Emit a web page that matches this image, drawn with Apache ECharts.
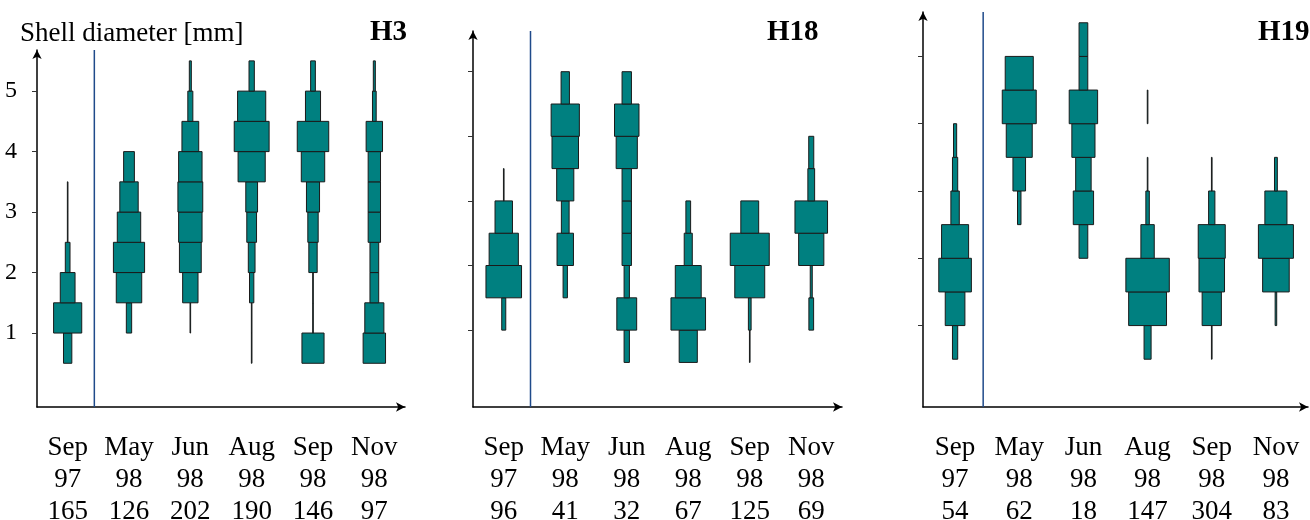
<!DOCTYPE html>
<html>
<head>
<meta charset="utf-8">
<script src="https://cdn.jsdelivr.net/npm/echarts@6/dist/echarts.min.js"></script>
<style>
  html, body { margin: 0; padding: 0; background: #fff; }
  #chart { width: 1310px; height: 520px; }
</style>
</head>
<body>
<div id="chart"></div>
<script>
// ---------- data ----------
const months = ['Sep', 'May', 'Jun', 'Aug', 'Sep', 'Nov'];
const years = ['97', '98', '98', '98', '98', '98'];
const sites = ['H3', 'H18', 'H19'];
const countsH3 = [165, 126, 202, 190, 146, 97];
const countsH18 = [96, 41, 32, 67, 125, 69];
const countsH19 = [54, 62, 18, 147, 304, 83];
// lower edges of 0.5 mm size classes
const binLower = [0.5, 1.0, 1.5, 2.0, 2.5, 3.0, 3.5, 4.0, 4.5, 5.0];
const binWidth = 0.5;
const yTicks = [1, 2, 3, 4, 5];
// relative frequency per size class (one row per sample date)
const freqH3 = [
  [8.3, 28, 14.7, 4.7, 0.6, 0.6, 0, 0, 0, 0],
  [0, 5.3, 25.3, 31, 23.3, 18.3, 10.7, 0, 0, 0],
  [0, 0.6, 15.3, 21.7, 23.3, 24.7, 23.3, 16.7, 5, 2],
  [0.6, 0.6, 4.3, 6.7, 9.7, 11.7, 27, 34.7, 28, 5.3],
  [22, 0.6, 0.6, 8.3, 10.3, 13, 23.3, 31.3, 15, 4.7],
  [22.3, 19, 8.7, 8.7, 12.3, 12.3, 12.3, 16.3, 3.7, 2]
];
const freqH18 = [
  [0, 4, 35.3, 29, 17.3, 0.6, 0, 0, 0, 0],
  [0, 0, 4.3, 16.3, 7.7, 17, 26.3, 28, 8.3, 0],
  [5.3, 19.7, 5.3, 9.3, 9.3, 9.3, 21, 24.3, 9.3, 0],
  [18, 34.3, 25.7, 8, 4.7, 0, 0, 0, 0, 0],
  [0.6, 2.7, 29.7, 38.7, 17.7, 0, 0, 0, 0, 0],
  [0, 4.7, 2, 25, 32.3, 6.7, 5, 0, 0, 0]
];
const freqH19 = [
  [5, 18.7, 31, 25.7, 8, 5, 3, 0, 0, 0],
  [0, 0, 0, 0, 3.3, 12, 24.7, 32.3, 26.7, 0],
  [0, 0, 0, 8.3, 19.3, 14.7, 22, 27, 8.3, 8.3],
  [6.7, 36, 41.3, 12.7, 3.3, 0.6, 0, 0.6, 0, 0],
  [0.6, 18.3, 24.3, 25.7, 6, 0.6, 0, 0, 0, 0],
  [0, 1.5, 25.3, 33.3, 21, 2.7, 0, 0, 0, 0]
];
const counts = [countsH3, countsH18, countsH19];
const freqs = [freqH3, freqH18, freqH19];

// ---------- layout / style ----------
const FONT = "'Liberation Serif', 'Times New Roman', serif";
const FREQ_PER_BAND = 61; // frequency units spanning one category band
const grids = [
  { left: 37, top: 50, width: 368, height: 357 },
  { left: 473, top: 31, width: 369, height: 376 },
  { left: 923, top: 12, width: 385, height: 395 }
];
const yRanges = [[-0.223, 5.68], [-0.19, 5.63], [-0.21, 5.66]];

const xAxes = [], yAxes = [], series = [];
sites.forEach((site, p) => {
  xAxes.push({
    gridIndex: p, type: 'category', boundaryGap: true, position: 'bottom',
    data: months.map((m, i) => m + '\n' + years[i] + '\n' + counts[p][i]),
    axisLine: { onZero: false, lineStyle: { color: '#000', width: 1.5 }, symbol: ['none', 'arrow'], symbolSize: [7, 9] },
    axisTick: { alignWithLabel: true, length: 6, lineStyle: { color: '#333' } },
    axisLabel: { interval: 0, fontFamily: FONT, fontSize: 27, lineHeight: 32, margin: 25, color: '#000' },
    splitLine: { show: false }
  });
  yAxes.push({
    gridIndex: p, type: 'value', min: yRanges[p][0], max: yRanges[p][1],
    axisLine: { show: true, onZero: false, lineStyle: { color: '#000', width: 1.5 }, symbol: ['none', 'arrow'], symbolSize: [7, 9] },
    axisTick: { show: true, customValues: yTicks, length: 5, lineStyle: { color: '#333' } },
    axisLabel: { show: p === 0, customValues: yTicks, fontFamily: FONT, fontSize: 24, color: '#000', margin: 20 },
    splitLine: { show: false }
  });
  const data = [];
  freqs[p].forEach((row, c) => {
    row.forEach((f, b) => { if (f > 0) data.push([c, binLower[b], f]); });
  });
  series.push({
    type: 'custom', xAxisIndex: p, yAxisIndex: p, data: data,
    encode: { x: 0, y: 1 },
    renderItem: (params, api) => {
      const c = api.value(0), lo = api.value(1), f = api.value(2);
      const band = api.size([1, 0])[0];
      const half = f * band / FREQ_PER_BAND / 2;
      const pLo = api.coord([c, lo]);
      const pHi = api.coord([c, lo + binWidth]);
      return {
        type: 'rect',
        shape: { x: pLo[0] - half, y: pHi[1], width: 2 * half, height: pLo[1] - pHi[1] },
        style: { fill: '#008080', stroke: '#1a1a1a', lineWidth: 1 }
      };
    },
    silent: true, z: 3
  });
  // break line between the first and the second sample
  const yr = yRanges[p];
  series.push({
    type: 'custom', xAxisIndex: p, yAxisIndex: p, data: [[0, yr[0]]],
    encode: { x: 0, y: 1 },
    renderItem: (params, api) => {
      const a = api.coord([0, yr[1]]);
      const b = api.coord([1, yr[0]]);
      const x = (a[0] + b[0]) / 2 - 4;
      return {
        type: 'line',
        shape: { x1: x, y1: a[1], x2: x, y2: b[1] },
        style: { stroke: '#1f4a8a', lineWidth: 1.5 }
      };
    },
    silent: true, z: 2
  });
});

const option = {
  animation: false,
  backgroundColor: '#fff',
  title: [
    { text: 'Shell diameter [mm]', left: 20, top: 20, padding: 0,
      textStyle: { fontFamily: FONT, fontSize: 27, fontWeight: 'normal', color: '#000', lineHeight: 27 } },
    { text: sites[0], left: 370, top: 18, padding: 0,
      textStyle: { fontFamily: FONT, fontSize: 29, fontWeight: 'bold', color: '#000', lineHeight: 29 } },
    { text: sites[1], left: 767, top: 18, padding: 0,
      textStyle: { fontFamily: FONT, fontSize: 29, fontWeight: 'bold', color: '#000', lineHeight: 29 } },
    { text: sites[2], left: 1258, top: 18, padding: 0,
      textStyle: { fontFamily: FONT, fontSize: 29, fontWeight: 'bold', color: '#000', lineHeight: 29 } }
  ],
  grid: grids.map(g => Object.assign({ containLabel: false, outerBoundsMode: 'none' }, g)),
  xAxis: xAxes,
  yAxis: yAxes,
  series: series
};

const chart = echarts.init(document.getElementById('chart'), null, { renderer: 'canvas' });
chart.setOption(option);
</script>
</body>
</html>
